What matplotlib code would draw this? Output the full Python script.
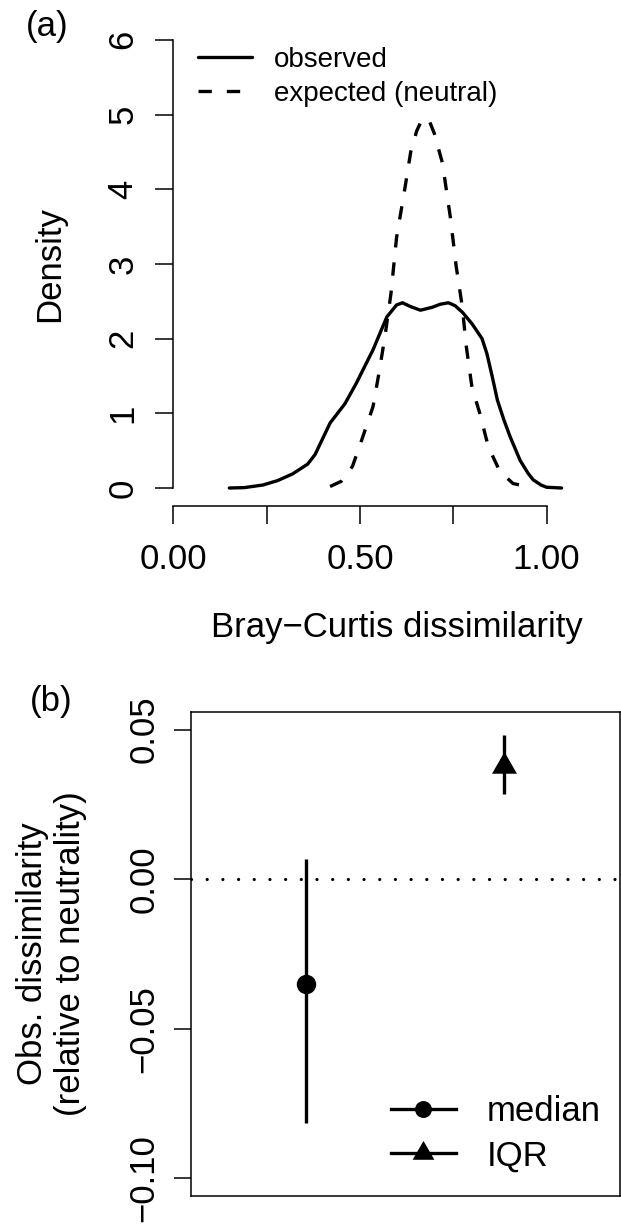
import numpy as np
import matplotlib
matplotlib.use("Agg")
import matplotlib.pyplot as plt
from matplotlib.lines import Line2D

plt.rcParams["font.family"] = ["Liberation Sans", "DejaVu Sans"]

# ======================
# DATA
# ======================
# (a) density curves
obs_x = [0.15, 0.19, 0.24, 0.28, 0.32, 0.36, 0.38, 0.40, 0.42, 0.44, 0.46, 0.49,
         0.535, 0.572, 0.598, 0.614, 0.635, 0.662, 0.694, 0.715, 0.737, 0.755,
         0.775, 0.80, 0.827, 0.84, 0.854, 0.868, 0.885, 0.902, 0.929, 0.95, 0.964,
         0.985, 1.0, 1.04]
obs_y = [0.0, 0.005, 0.04, 0.10, 0.19, 0.32, 0.45, 0.66, 0.87, 1.0, 1.13, 1.40,
         1.85, 2.29, 2.45, 2.48, 2.43, 2.38, 2.42, 2.46, 2.48, 2.44,
         2.35, 2.2, 2.0, 1.8, 1.5, 1.18, 0.92, 0.69, 0.37, 0.2, 0.11,
         0.04, 0.01, 0.0]

exp_x = [0.42, 0.45, 0.48, 0.508, 0.535, 0.551, 0.567, 0.583, 0.598, 0.62, 0.636,
         0.652, 0.665, 0.675, 0.687, 0.699, 0.721, 0.742, 0.758, 0.774, 0.785, 0.80,
         0.821, 0.844, 0.875, 0.91, 0.938, 0.953]
exp_y = [0.02, 0.09, 0.29, 0.69, 1.09, 1.54, 2.03, 2.6, 3.35, 4.0, 4.5,
         4.78, 4.92, 4.96, 4.9, 4.75, 4.35, 3.63, 2.96, 2.43, 1.89, 1.35,
         1.0, 0.55, 0.22, 0.06, 0.03, 0.01]

# (b) observed minus neutral
stats = ["median", "IQR"]
stat_pos = [1, 2]
stat_val = [-0.035, 0.038]
stat_lo = [-0.0817, 0.0284]
stat_hi = [0.0068, 0.0483]

yticks_b = [-0.10, -0.05, 0.00, 0.05]
yticklabels_b = ["\u22120.10", "\u22120.05", "0.00", "0.05"]

FS = 25
W, H = 621, 1226
fig = plt.figure(figsize=(W / 100, H / 100), dpi=100)


def make_legend(ax, handles, labels, anchor, fs, spacing, **kw):
    return ax.legend(handles, labels, loc="upper left", bbox_to_anchor=anchor,
                     bbox_transform=fig.transFigure, frameon=False, fontsize=fs,
                     labelspacing=spacing, borderpad=0, borderaxespad=0, **kw)


def handle_points(leg):
    fig.canvas.draw()
    return [l.get_transform().transform(l.get_xydata())[0] for l in leg.get_lines()]


def fit_legend(ax, handles, labels, x0, y0, pitch, fs, **kw):
    # put first handle start at (x0, y0) px from top-left, rows pitch px apart
    spacing = 0.2
    leg = make_legend(ax, handles, labels, (0.5, 0.5), fs, spacing, **kw)
    p = handle_points(leg)
    spacing += (pitch - (p[0][1] - p[1][1])) / (fs * 100 / 72)
    leg = make_legend(ax, handles, labels, (0.5, 0.5), fs, spacing, **kw)
    p = handle_points(leg)
    dx = x0 - p[0][0]
    dy = (H - y0) - p[0][1]
    return make_legend(ax, handles, labels, (0.5 + dx / W, 0.5 + dy / H), fs,
                       spacing, **kw)


# ======================
# PANEL (a)
# ======================
ax = fig.add_axes([173.3 / W, 1 - 506 / H, 1.1 * 373.3 / W, (506 - 21.9) / H])
ax.set_xlim(0, 1.1)
ax.set_ylim(-0.241, 6.24)
ax.plot(obs_x, obs_y, color="black", lw=2.4, solid_capstyle="round",
        solid_joinstyle="round", label="observed")
ax.plot(exp_x, exp_y, color="black", lw=2.4, dashes=(4.0, 4.5),
        dash_capstyle="butt", dash_joinstyle="round", label="expected (neutral)")

for side in ["top", "right"]:
    ax.spines[side].set_visible(False)
ax.spines["left"].set_bounds(0, 6)
ax.spines["bottom"].set_bounds(0, 1)
for side in ["left", "bottom"]:
    ax.spines[side].set_linewidth(1.1)

ax.set_xticks([0, 0.25, 0.5, 0.75, 1.0])
ax.set_xticklabels(["0.00", "", "0.50", "", "1.00"])
ax.set_yticks(range(7))
ax.tick_params(axis="both", length=12.7, width=1.1, labelsize=FS)
ax.tick_params(axis="x", pad=14)
ax.tick_params(axis="y", pad=11.5, labelrotation=90)
for t in ax.get_yticklabels():
    t.set_va("center")

ax.set_xlabel("Bray\u2212Curtis dissimilarity", fontsize=FS, va="baseline")
ax.xaxis.set_label_coords(0.6 / 1.1, -(637 - 506) / (506 - 21.9))
ax.set_ylabel("Density", fontsize=FS, va="center", ha="center")
ax.yaxis.set_label_coords(-0.3003, 0.5)

h_a, l_a = ax.get_legend_handles_labels()
fit_legend(ax, h_a, l_a, 198, 57, 34, 20, handlelength=1.94, handletextpad=0.8)

fig.text(47.5 / W, 1 - 26.7 / H, "(a)", fontsize=FS, ha="center", va="center")

# ======================
# PANEL (b)
# ======================
bx = fig.add_axes([190.7 / W, 1 - 1196 / H, (619.5 - 190.7) / W, (1196 - 711.7) / H])
bx.set_xlim(0.42, 2.58)
bx.set_ylim(-0.106, 0.056)

bx.axhline(0, color="black", lw=2.3, dashes=(0.01, 4.9), dash_capstyle="round")

tri = [(0, 1), (-0.866, -0.5), (0.866, -0.5), (0, 1)]
markers = ["o", tri]
msizes = [14, 20.8]
for i in range(len(stats)):
    bx.plot([stat_pos[i], stat_pos[i]], [stat_lo[i], stat_hi[i]], color="black",
            lw=2.4, solid_capstyle="butt")
    bx.plot([stat_pos[i]], [stat_val[i]], marker=markers[i], ms=msizes[i],
            color="black", mew=0, ls="none")

bx.set_xticks([])
bx.set_yticks(yticks_b)
bx.set_yticklabels(yticklabels_b)
bx.tick_params(axis="y", length=12.5, width=1.1, labelsize=FS, pad=9.4,
               labelrotation=90)
for t in bx.get_yticklabels():
    t.set_va("center")
for s in bx.spines.values():
    s.set_linewidth(1.1)

bx.set_ylabel("Obs. dissimilarity\n(relative to neutrality)", fontsize=FS,
              va="center", ha="center", linespacing=1.2)
bx.yaxis.set_label_coords(-0.3246, 0.5)

handles = [Line2D([], [], color="black", lw=2.4, marker=markers[i],
                  ms=msizes[i] * 0.87, mew=0) for i in range(len(stats))]
fit_legend(bx, handles, stats, 391, 1109.3, 44, FS, handlelength=1.87,
           handletextpad=0.9)

fig.text(51.5 / W, 1 - 701 / H, "(b)", fontsize=FS, ha="center", va="center")

fig.savefig("out.png", dpi=100)
